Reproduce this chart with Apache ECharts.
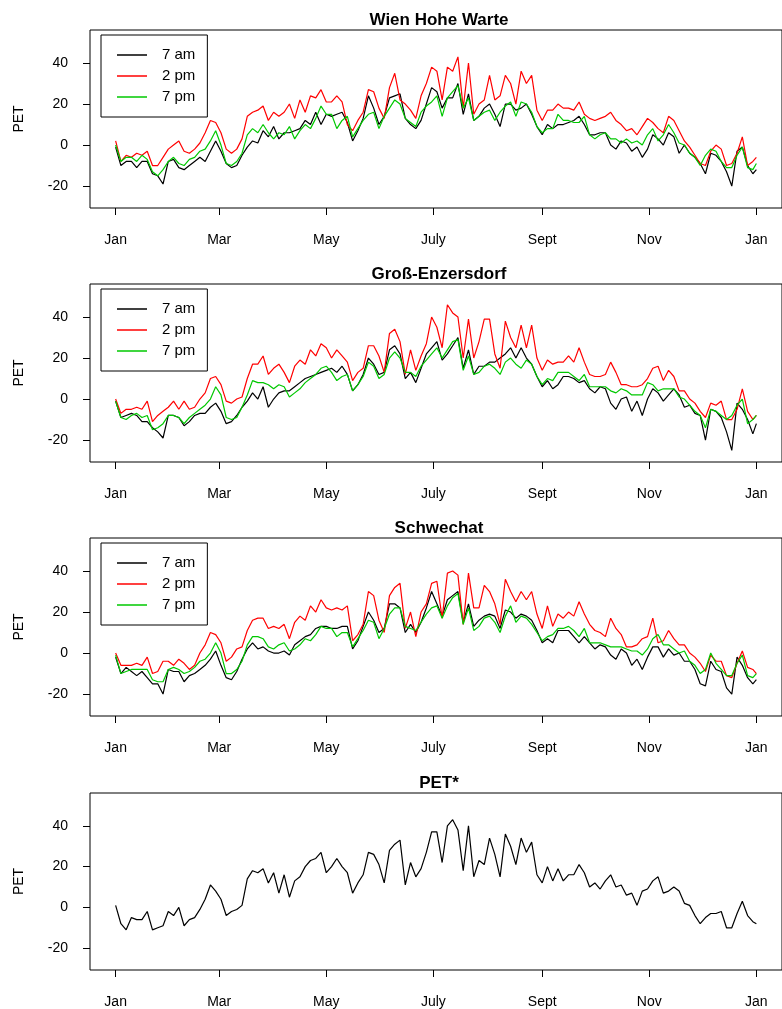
<!DOCTYPE html>
<html>
<head>
<meta charset="utf-8">
<title>PET</title>
<script src="https://cdn.jsdelivr.net/npm/echarts@6/dist/echarts.min.js"></script>
<style>
  body { margin: 0; background: #fff; }
  #chart { width: 782px; height: 1009px; }
</style>
</head>
<body>
<div id="chart"></div>
<script>
// day of year for every 3rd value, plus 31 Dec
const days = []
for (let d = 0; d <= 363; d += 3) days.push(d)
days.push(365)

const monthDays = [0, 59, 120, 181, 243, 304, 365]
const monthLabels = ['Jan', 'Mar', 'May', 'July', 'Sept', 'Nov', 'Jan']
const petTicks = [-20, 0, 20, 40]
const seriesNames = ['7 am', '2 pm', '7 pm']
const panelTitles = ['Wien Hohe Warte', 'Groß-Enzersdorf', 'Schwechat', 'PET*']

// Wien Hohe Warte
const wienAm = [
  -1, -10, -8, -8, -11, -8, -8, -14, -15, -19, -8, -7, -11, -12, -10, -8, -6, -8, -3, 2,
  -3, -9, -11, -10, -5, -1, 2, 1, 7, 4, 9, 3, 6, 6, 7, 8, 12, 10, 16, 10, 15,
  14, 15, 16, 11, 2, 7, 13, 24, 18, 10, 14, 23, 24, 25, 13, 10, 8, 12, 20, 28,
  26, 18, 23, 23, 30, 15, 25, 12, 14, 18, 20, 15, 9, 20, 20, 17, 18, 20, 15, 9,
  5, 10, 8, 10,
  10, 11, 12, 14, 10, 5, 5, 6, 6, 0, -2, 2, 1, -3, -1, -6, -2, 5, 3, 0,
  6, 4, -4, 0, -4, -6, -9, -14, -4, -5, -8, -13, -20, -3, -1, -10, -14, -12
]
const wienPm2 = [
  2, -8, -5, -6, -4, -5, -3, -10, -10, -6, -2, 0, 2, -3, -4, -2, 1, 6, 12, 11,
  6, -2, -4, -2, 3, 14, 16, 17, 19, 12, 16, 14, 16, 20, 13, 22, 16, 24, 23, 27, 21,
  21, 24, 21, 10, 7, 12, 16, 27, 26, 18, 13, 28, 35, 22, 20, 17, 13, 24, 30, 38,
  36, 22, 38, 36, 43, 18, 40, 15, 20, 22, 34, 22, 24, 34, 30, 20, 36, 30, 34, 17,
  12, 17, 17, 20,
  18, 18, 17, 21, 15, 13, 12, 13, 14, 16, 12, 10, 7, 8, 5, 9, 13, 11, 8, 6,
  14, 12, 7, 2, -1, -5, -9, -10, -3, 0, -2, -10, -9, -4, 4, -10, -8, -6
]
const wienPm7 = [
  0, -8, -6, -6, -8, -5, -7, -13, -15, -12, -8, -6, -9, -10, -7, -6, -3, -2, 2, 7,
  0, -9, -10, -8, -4, 5, 8, 6, 10, 6, 3, 6, 5, 9, 3, 7, 10, 8, 13, 19, 15,
  15, 8, 12, 14, 4, 8, 12, 15, 16, 8, 14, 18, 22, 20, 13, 11, 9, 16, 19, 21,
  24, 14, 23, 26, 29, 18, 23, 12, 14, 16, 17, 12, 16, 19, 21, 14, 21, 20, 16, 9,
  6, 8, 8, 15,
  12, 12, 11, 11, 14, 5, 3, 5, 6, 3, 3, 1, 3, 1, 2, 0, 5, 8, 2, 5,
  10, 6, 1, 0, -4, -6, -10, -5, -2, -3, -8, -11, -11, -5, -1, -11, -12, -9
]

// Groß-Enzersdorf
const grossAm = [
  -1, -9, -8, -7, -8, -11, -11, -14, -16, -19, -8, -8, -9, -13, -11, -8, -7, -7, -4, -2,
  -6, -12, -11, -8, -4, -1, 3, 0, 6, -4, 0, 3, 4, 4, 6, 8, 10, 11, 12, 13, 14,
  15, 13, 16, 12, 4, 7, 12, 20, 17, 12, 13, 24, 26, 22, 10, 13, 8, 15, 22, 25,
  28, 19, 22, 26, 30, 15, 24, 12, 16, 16, 18, 18, 20, 22, 25, 20, 25, 20, 17, 11,
  6, 9, 5, 7,
  11, 11, 10, 8, 9, 5, 3, 6, 5, -2, -5, 0, 1, -6, -1, -8, 0, 5, 3, -1,
  2, 5, 2, -4, -3, -7, -8, -20, -5, -6, -9, -16, -25, -2, -5, -10, -17, -12
]
const grossPm2 = [
  0, -7, -5, -5, -4, -5, -1, -11, -8, -6, -4, -1, -5, -1, -5, -4, 0, 3, 10, 11,
  7, -1, -2, 0, 1, 10, 17, 17, 21, 12, 15, 17, 13, 8, 16, 19, 17, 24, 21, 27, 25,
  20, 24, 21, 18, 9, 13, 15, 26, 26, 21, 13, 32, 34, 28, 12, 24, 14, 21, 27, 40,
  35, 25, 46, 42, 40, 20, 39, 20, 28, 39, 39, 22, 15, 38, 30, 25, 36, 25, 36, 20,
  14, 19, 17, 18,
  18, 21, 18, 25, 18, 12, 11, 11, 12, 18, 13, 7, 7, 6, 6, 7, 10, 15, 16, 9,
  14, 11, 4, 4, 0, -2, -6, -9, -2, -3, -1, -10, -10, -5, 5, -6, -10, -8
]
const grossPm7 = [
  -1, -9, -10, -8, -7, -9, -8, -15, -14, -12, -8, -8, -9, -12, -9, -7, -5, -3, 0, 6,
  2, -9, -10, -9, -4, 2, 9, 8, 8, 7, 5, 7, 6, 1, 3, 5, 8, 10, 12, 15, 16,
  13, 9, 11, 12, 4, 7, 11, 18, 16, 10, 12, 20, 23, 20, 13, 13, 11, 16, 19, 22,
  25, 20, 24, 28, 29, 14, 21, 12, 13, 16, 17, 15, 12, 18, 20, 17, 15, 19, 17, 11,
  7, 10, 9, 13,
  13, 13, 11, 9, 12, 6, 6, 6, 6, 4, 3, 5, 4, 2, 2, 2, 8, 7, 4, 5,
  5, 5, 1, 0, -3, -6, -8, -14, -5, -6, -8, -10, -8, -3, 0, -12, -10, -8
]

// Schwechat
const schwAm = [
  -2, -10, -7, -9, -11, -9, -12, -15, -15, -20, -8, -9, -9, -14, -11, -10, -8, -6, -3, 1,
  -6, -12, -13, -9, -3, 2, 5, 2, 3, 1, 0, 0, 1, -1, 4, 6, 8, 9, 12, 13, 13,
  12, 12, 13, 13, 2, 6, 13, 20, 16, 10, 12, 24, 24, 22, 10, 14, 10, 15, 22, 30,
  24, 18, 26, 28, 30, 15, 24, 13, 16, 18, 19, 18, 12, 21, 20, 17, 19, 18, 16, 11,
  5, 7, 5, 11,
  11, 11, 8, 5, 8, 5, 2, 4, 3, -1, -3, 2, 0, -6, -3, -8, -2, 3, 3, -2,
  2, -1, 0, -4, -4, -8, -15, -16, -4, -8, -9, -17, -20, -2, -6, -12, -15, -13
]
const schwPm2 = [
  0, -6, -6, -6, -5, -6, -2, -10, -9, -4, -4, -6, -3, -5, -8, -6, 0, 4, 10, 9,
  5, -4, -2, 2, 3, 11, 16, 17, 17, 12, 13, 12, 14, 7, 15, 18, 16, 23, 20, 26, 22,
  21, 22, 21, 23, 6, 9, 14, 30, 28, 16, 10, 28, 32, 34, 12, 20, 8, 20, 24, 34,
  35, 17, 39, 40, 38, 14, 39, 22, 22, 33, 30, 24, 14, 36, 30, 25, 30, 26, 30, 19,
  12, 23, 13, 19,
  17, 20, 18, 25, 19, 14, 11, 10, 8, 17, 12, 9, 3, 3, 4, 7, 8, 17, 5, 6,
  11, 7, 4, 4, 0, -2, -5, -9, -1, -4, -4, -11, -12, -5, 1, -7, -8, -10
]
const schwPm7 = [
  -1, -10, -9, -8, -8, -8, -8, -13, -14, -14, -8, -7, -8, -10, -9, -7, -4, -3, 0, 5,
  0, -10, -10, -8, -4, 4, 8, 8, 7, 3, 2, 4, 5, 1, 2, 4, 7, 6, 9, 13, 12,
  12, 8, 10, 10, 3, 7, 11, 16, 15, 7, 12, 19, 22, 22, 13, 12, 11, 15, 19, 22,
  23, 17, 23, 27, 29, 14, 22, 11, 13, 17, 18, 15, 10, 18, 23, 15, 18, 17, 14, 10,
  6, 8, 9, 12,
  12, 13, 11, 8, 12, 5, 5, 5, 4, 3, 3, 3, 2, 1, 1, -1, 2, 7, 9, 4,
  4, 2, 0, 1, -4, -6, -10, -8, 0, -5, -8, -11, -11, -5, -1, -11, -12, -10
]

// PET*
const petStar = [
  1, -8, -11, -5, -6, -6, -2, -11, -10, -9, -2, -4, 0, -9, -6, -5, -1, 4, 11, 8,
  4, -4, -2, -1, 1, 14, 18, 17, 19, 12, 17, 7, 16, 5, 13, 15, 20, 23, 24, 27, 17,
  20, 24, 20, 17, 7, 12, 16, 27, 26, 21, 12, 28, 31, 33, 11, 22, 15, 19, 27, 37,
  37, 22, 40, 43, 38, 18, 40, 15, 23, 21, 34, 26, 15, 36, 30, 21, 34, 27, 32, 16,
  12, 20, 13, 19,
  13, 16, 16, 21, 17, 10, 12, 9, 13, 16, 10, 11, 6, 7, 1, 8, 9, 13, 15, 7,
  8, 10, 8, 2, 1, -4, -8, -5, -3, -3, -2, -10, -10, -3, 3, -4, -7, -8
]

;(function () {
  const font = "'Liberation Sans', Arial, sans-serif"
  const colors = ['#000000', '#ff0000', '#00c800']
  const panels = [
    [wienAm, wienPm2, wienPm7],
    [grossAm, grossPm2, grossPm7],
    [schwAm, schwPm2, schwPm7],
    [petStar],
  ]
  const tops = [30, 284, 538, 793]
  const plotH = 178

  const toPairs = (vals) => days.map((d, i) => [d, vals[i]])

  let grids = []
  let xAxes = []
  let yAxes = []
  let titles = []
  let legends = []
  let series = []

  panels.forEach((lines, i) => {
    grids.push({
      left: 90,
      top: tops[i],
      width: 698,
      height: plotH,
      show: true,
      borderColor: '#000',
      borderWidth: 1,
      backgroundColor: 'transparent',
    })
    titles.push({
      text: panelTitles[i],
      left: 439,
      top: tops[i] - 18,
      textAlign: 'center',
      padding: 0,
      textStyle: { fontFamily: font, fontSize: 17, fontWeight: 'bold', color: '#000' },
    })
    xAxes.push({
      gridIndex: i,
      type: 'value',
      min: -14.6,
      max: 379.6,
      axisLine: { show: false, onZero: false },
      splitLine: { show: false },
      axisTick: {
        show: true,
        customValues: monthDays,
        length: 7,
        lineStyle: { color: '#000', width: 1 },
      },
      axisLabel: {
        customValues: monthDays,
        formatter: (v) => monthLabels[monthDays.indexOf(v)],
        margin: 25,
        color: '#000',
        fontSize: 14,
        fontFamily: font,
      },
    })
    yAxes.push({
      gridIndex: i,
      type: 'value',
      min: -30.7,
      max: 56.1,
      name: 'PET',
      nameLocation: 'middle',
      nameGap: 64,
      nameTextStyle: { color: '#000', fontSize: 14, fontFamily: font },
      axisLine: { show: false, onZero: false },
      splitLine: { show: false },
      axisTick: {
        show: true,
        customValues: petTicks,
        length: 7,
        lineStyle: { color: '#000', width: 1 },
      },
      axisLabel: {
        customValues: petTicks,
        margin: 22,
        color: '#000',
        fontSize: 14,
        fontFamily: font,
      },
    })
    lines.forEach((vals, k) => {
      series.push({
        name: seriesNames[k],
        type: 'line',
        xAxisIndex: i,
        yAxisIndex: i,
        data: toPairs(vals),
        symbol: 'none',
        color: colors[k],
        lineStyle: { width: 1.2, color: colors[k] },
        silent: true,
        animation: false,
      })
    })
    if (lines.length > 1) {
      legends.push({
        data: seriesNames,
        orient: 'vertical',
        left: 101,
        top: tops[i] + 5,
        padding: [12, 12, 12, 16],
        icon: 'rect',
        itemWidth: 30,
        itemHeight: 1.5,
        itemGap: 5,
        borderColor: '#000',
        borderWidth: 1,
        borderRadius: 0,
        selectedMode: false,
        textStyle: {
          color: '#000',
          fontSize: 15,
          lineHeight: 16,
          fontFamily: font,
          padding: [0, 0, 0, 10],
        },
      })
    }
  })

  let myChart = echarts.init(document.getElementById('chart'))
  let options = {
    animation: false,
    backgroundColor: '#fff',
    title: titles,
    legend: legends,
    grid: grids,
    xAxis: xAxes,
    yAxis: yAxes,
    series: series,
  }
  myChart.setOption(options)
})()
</script>
</body>
</html>
